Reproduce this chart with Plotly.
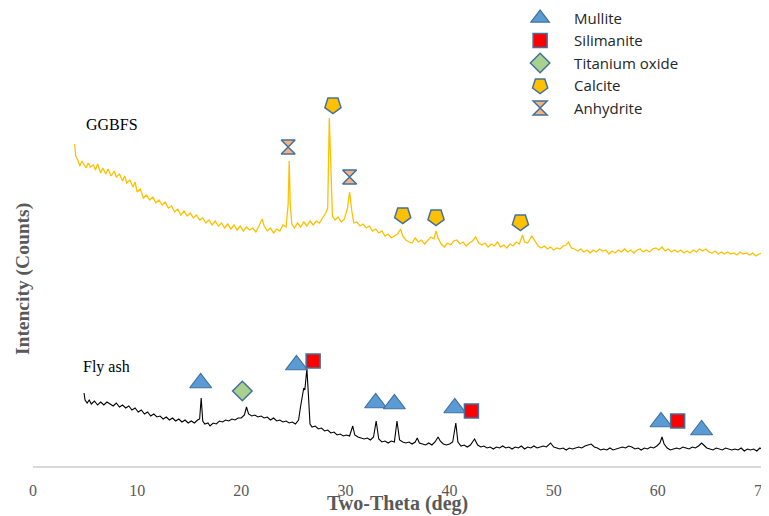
import plotly.graph_objects as go

# ---- data: GGBFS pattern (two-theta deg, intensity a.u.) ----
ggbfs_x = [4.0, 4.1, 4.3, 4.5, 4.7, 4.9, 5.1, 5.3, 5.5, 5.8, 6.0, 6.2, 6.5, 6.7, 7.0, 7.2, 7.5, 7.8, 8.0, 8.3,
           8.6, 8.8, 9.0, 9.3, 9.6, 9.8, 10.0, 10.3, 10.6, 10.9, 11.2, 11.5, 11.8, 12.1, 12.4, 12.7, 13.0, 13.3, 13.6, 13.9,
           14.2, 14.5, 14.8, 15.1, 15.4, 15.7, 16.0, 16.3, 16.6, 16.9, 17.2, 17.5, 17.8, 18.1, 18.4, 18.7, 19.0, 19.3, 19.6, 19.9,
           20.2, 20.5, 20.8, 21.1, 21.4, 21.7, 22.0, 22.2, 22.5, 22.8, 23.1, 23.4, 23.7, 24.0, 24.3, 24.5, 24.6, 24.7, 24.85, 25.1,
           25.4, 25.7, 26.0, 26.3, 26.6, 26.9, 27.2, 27.5, 27.8, 28.1, 28.3, 28.45, 28.6, 28.75, 29.0, 29.3, 29.6, 29.9, 30.2, 30.4,
           30.6, 30.8, 31.1, 31.4, 31.7, 32.0, 32.3, 32.6, 32.9, 33.2, 33.5, 33.8, 34.1, 34.4, 34.7, 35.0, 35.3, 35.5, 35.8, 36.1,
           36.4, 36.7, 37.0, 37.3, 37.6, 37.9, 38.2, 38.5, 38.7, 38.9, 39.2, 39.5, 39.8, 40.1, 40.4, 40.7, 41.0, 41.3, 41.6, 41.9,
           42.2, 42.5, 42.8, 43.1, 43.4, 43.7, 44.0, 44.3, 44.6, 44.9, 45.2, 45.5, 45.8, 46.1, 46.4, 46.7, 47.0, 47.2, 47.5, 47.9,
           48.2, 48.5, 48.8, 49.1, 49.4, 49.7, 50.0, 50.3, 50.6, 50.9, 51.2, 51.4, 51.7, 52.0, 52.3, 52.6, 52.9, 53.2, 53.5, 53.8,
           54.1, 54.4, 54.7, 55.0, 55.3, 55.6, 55.9, 56.2, 56.5, 56.8, 57.1, 57.4, 57.7, 58.0, 58.3, 58.6, 58.9, 59.2, 59.5, 59.8,
           60.1, 60.4, 60.7, 61.0, 61.3, 61.6, 61.9, 62.2, 62.5, 62.8, 63.1, 63.4, 63.7, 64.0, 64.3, 64.6, 64.9, 65.2, 65.5, 65.8,
           66.1, 66.4, 66.7, 67.0, 67.3, 67.6, 67.9, 68.2, 68.5, 68.8, 69.1, 69.4, 69.7, 70.0]
ggbfs_y = [322, 310, 306, 300, 305, 302, 298, 303, 299, 301, 296, 302, 293, 298, 292, 297, 290, 295, 289, 292,
           285, 290, 283, 286, 279, 284, 274, 277, 268, 271, 266, 269, 263, 266, 261, 264, 258, 260, 254, 257,
           251, 255, 250, 253, 248, 251, 246, 248, 243, 246, 241, 245, 240, 243, 238, 242, 237, 241, 236, 240,
           235, 239, 236, 238, 234, 240, 247, 240, 235, 238, 233, 237, 235, 241, 239, 262, 305, 262, 242, 238,
           243, 239, 244, 240, 245, 241, 245, 243, 248, 253, 258, 348, 300, 250, 246, 249, 244, 247, 258, 274,
           256, 243, 244, 240, 242, 238, 240, 235, 237, 233, 235, 230, 232, 228, 230, 232, 237, 230, 226, 224,
           223, 228, 224, 226, 222, 225, 229, 227, 235, 228, 222, 219, 223, 221, 225, 226, 222, 224, 220, 223,
           225, 229, 223, 221, 223, 219, 222, 220, 224, 219, 221, 218, 222, 220, 224, 222, 231, 224, 223, 230,
           225, 220, 218, 220, 217, 219, 216, 218, 217, 220, 221, 224, 218, 217, 215, 217, 214, 216, 213, 216,
           214, 217, 215, 216, 212, 215, 213, 216, 214, 217, 214, 216, 213, 216, 217, 214, 216, 214, 217, 218,
           216, 219, 215, 217, 214, 216, 214, 216, 213, 215, 213, 216, 214, 217, 215, 217, 214, 213, 215, 212,
           214, 212, 214, 212, 213, 211, 214, 212, 213, 211, 213, 210, 212, 213]

# ---- data: Fly ash pattern ----
flyash_x = [4.9, 5.0, 5.2, 5.4, 5.6, 5.9, 6.2, 6.5, 6.8, 7.1, 7.4, 7.7, 8.0, 8.3, 8.6, 8.9, 9.2, 9.5, 9.8, 10.1,
            10.4, 10.7, 11.0, 11.3, 11.6, 11.9, 12.2, 12.5, 12.8, 13.1, 13.4, 13.7, 14.0, 14.3, 14.6, 14.9, 15.2, 15.5, 15.8, 16.0,
            16.15, 16.3, 16.5, 16.8, 17.0, 17.3, 17.6, 17.9, 18.2, 18.5, 18.8, 19.1, 19.4, 19.7, 20.0, 20.3, 20.5, 20.7, 21.0, 21.3,
            21.6, 21.9, 22.2, 22.5, 22.8, 23.1, 23.4, 23.7, 24.0, 24.3, 24.6, 24.9, 25.2, 25.5, 25.7, 25.9, 26.0, 26.1, 26.3, 26.45,
            26.6, 26.8, 27.1, 27.4, 27.7, 28.0, 28.3, 28.6, 28.9, 29.2, 29.5, 29.8, 30.1, 30.4, 30.7, 30.9, 31.2, 31.5, 31.8, 32.1,
            32.4, 32.7, 32.95, 33.2, 33.5, 33.8, 34.1, 34.4, 34.7, 34.95, 35.2, 35.5, 35.8, 36.1, 36.4, 36.7, 36.9, 37.1, 37.4, 37.7,
            38.0, 38.3, 38.6, 38.9, 39.1, 39.4, 39.7, 40.0, 40.3, 40.6, 40.8, 41.1, 41.4, 41.7, 42.0, 42.4, 42.7, 43.0, 43.3, 43.6,
            43.9, 44.2, 44.5, 44.8, 45.1, 45.4, 45.7, 46.0, 46.3, 46.6, 46.9, 47.2, 47.5, 47.8, 48.1, 48.4, 48.7, 49.0, 49.3, 49.7,
            50.0, 50.3, 50.6, 50.9, 51.2, 51.5, 51.8, 52.1, 52.4, 52.7, 53.0, 53.3, 53.6, 53.9, 54.2, 54.5, 54.8, 55.1, 55.4, 55.7,
            56.0, 56.3, 56.6, 56.9, 57.2, 57.5, 57.8, 58.1, 58.4, 58.7, 59.0, 59.3, 59.6, 59.9, 60.2, 60.4, 60.6, 60.9, 61.2, 61.5,
            61.8, 62.1, 62.4, 62.7, 63.0, 63.3, 63.6, 63.9, 64.2, 64.4, 64.7, 65.0, 65.3, 65.6, 65.9, 66.2, 66.5, 66.8, 67.1, 67.4,
            67.7, 68.0, 68.3, 68.6, 68.9, 69.2, 69.5, 69.8, 70.0]
flyash_y = [73, 66, 63, 66, 62, 65, 61, 64, 61, 64, 62, 60, 63, 59, 61, 58, 60, 56, 58, 54,
            56, 52, 54, 50, 52, 49, 50, 47, 49, 46, 48, 45, 47, 44, 46, 43, 45, 43, 46, 47,
            68, 45, 42, 43, 40, 43, 42, 45, 44, 46, 45, 47, 46, 48, 48, 51, 59, 52, 50, 51,
            49, 50, 48, 49, 46, 48, 45, 46, 44, 45, 43, 44, 42, 46, 60, 72, 78, 76, 97, 70,
            42, 39, 40, 37, 38, 35, 36, 33, 34, 31, 32, 30, 31, 30, 40, 31, 29, 28, 27, 28,
            26, 29, 45, 27, 24, 25, 23, 25, 24, 45, 26, 24, 23, 24, 22, 24, 28, 23, 22, 21,
            23, 21, 24, 29, 25, 22, 21, 22, 24, 43, 24, 20, 21, 19, 21, 27, 21, 19, 20, 18,
            19, 17, 19, 18, 20, 18, 19, 17, 19, 18, 20, 17, 19, 18, 20, 18, 19, 20, 19, 23,
            19, 18, 17, 18, 16, 18, 17, 18, 19, 18, 20, 21, 22, 19, 18, 16, 17, 16, 18, 16,
            17, 18, 19, 18, 20, 19, 17, 18, 16, 18, 17, 19, 18, 20, 23, 29, 22, 18, 16, 17,
            18, 17, 19, 18, 17, 19, 18, 20, 23, 21, 18, 17, 16, 18, 17, 16, 18, 17, 16, 17,
            16, 18, 15, 17, 16, 17, 15, 18, 17]

# ---- phase markers (two-theta, intensity) ----
mullite_x = [16.1, 25.3, 32.9, 34.7, 40.5, 60.3, 64.2]
mullite_y = [83, 101, 63, 62, 58, 44, 36]
silimanite_x = [26.9, 42.1, 61.9]
silimanite_y = [105, 55, 45]
titanium_x = [20.1]
titanium_y = [75]
calcite_x = [28.8, 35.5, 38.7, 46.8]
calcite_y = [361, 251, 249, 244]
anhydrite_x = [24.5, 30.4]
anhydrite_y = [319, 289]

BORDER = "#41719C"
SERIF = "Liberation Serif, Times New Roman, serif"

fig = go.Figure()
fig.add_trace(go.Scatter(x=ggbfs_x, y=ggbfs_y, mode="lines", line=dict(color="#FFC000", width=1.3),
                         showlegend=False, hoverinfo="skip"))
fig.add_trace(go.Scatter(x=flyash_x, y=flyash_y, mode="lines", line=dict(color="#000000", width=1.1),
                         showlegend=False, hoverinfo="skip"))

fig.add_trace(go.Scatter(x=mullite_x, y=mullite_y, mode="markers", name="Mullite",
                         marker=dict(symbol="triangle-up", size=19, color="#5B9BD5",
                                     line=dict(color=BORDER, width=1.2))))
fig.add_trace(go.Scatter(x=silimanite_x, y=silimanite_y, mode="markers", name="Silimanite",
                         marker=dict(symbol="square", size=14, color="#FF0000",
                                     line=dict(color=BORDER, width=1.5))))
fig.add_trace(go.Scatter(x=titanium_x, y=titanium_y, mode="markers", name="Titanium oxide",
                         marker=dict(symbol="diamond", size=15, color="#A9D18E",
                                     line=dict(color=BORDER, width=1.5))))
fig.add_trace(go.Scatter(x=calcite_x, y=calcite_y, mode="markers", name="Calcite",
                         marker=dict(symbol="pentagon", angle=180, size=17, color="#FFC000",
                                     line=dict(color=BORDER, width=1.5))))
fig.add_trace(go.Scatter(x=anhydrite_x, y=anhydrite_y, mode="markers", name="Anhydrite",
                         marker=dict(symbol="hourglass", size=14, color="#F4B183",
                                     line=dict(color=BORDER, width=1.5))))

# the page body adds an 8px offset, so the figure is 8px smaller and margins are shifted
fig.update_layout(
    width=761, height=508,
    margin=dict(l=25, r=7, t=2, b=50, autoexpand=False),
    paper_bgcolor="white", plot_bgcolor="white",
    showlegend=True,
    legend=dict(x=0.649, y=1.018, xanchor="left", yanchor="top", itemwidth=58,
                font=dict(family="Open Sans, Lato, sans-serif", size=15, color="#262626"),
                bgcolor="rgba(0,0,0,0)", itemsizing="trace"),
    xaxis=dict(range=[0, 70], tickvals=[0, 10, 20, 30, 40, 50, 60, 70],
               showgrid=False, zeroline=False, showline=True, linecolor="#D9D9D9", linewidth=2,
               ticks="", ticklabelstandoff=9, ticklabeloverflow="allow",
               tickfont=dict(family=SERIF, size=16, color="#595959")),
    yaxis=dict(range=[0, 456], visible=False, showgrid=False, zeroline=False),
    annotations=[
        dict(text="<b>Two-Theta (deg)</b>", xref="paper", yref="paper", x=0.5, y=-0.082,
             xanchor="center", yanchor="middle", showarrow=False,
             font=dict(family=SERIF, size=20, color="#595959")),
        dict(text="<b>Intencity (Counts)</b>", xref="paper", yref="paper", x=-0.0137, y=0.41,
             xanchor="center", yanchor="middle", textangle=-90, showarrow=False,
             font=dict(family=SERIF, size=19.5, color="#595959")),
        dict(text="GGBFS", x=7.6, y=342, xanchor="center", yanchor="middle", showarrow=False,
             font=dict(family=SERIF, size=16, color="#000000")),
        dict(text="Fly ash", x=7.1, y=99, xanchor="center", yanchor="middle", showarrow=False,
             font=dict(family=SERIF, size=16, color="#000000")),
    ],
)

fig.write_html("out.html")
